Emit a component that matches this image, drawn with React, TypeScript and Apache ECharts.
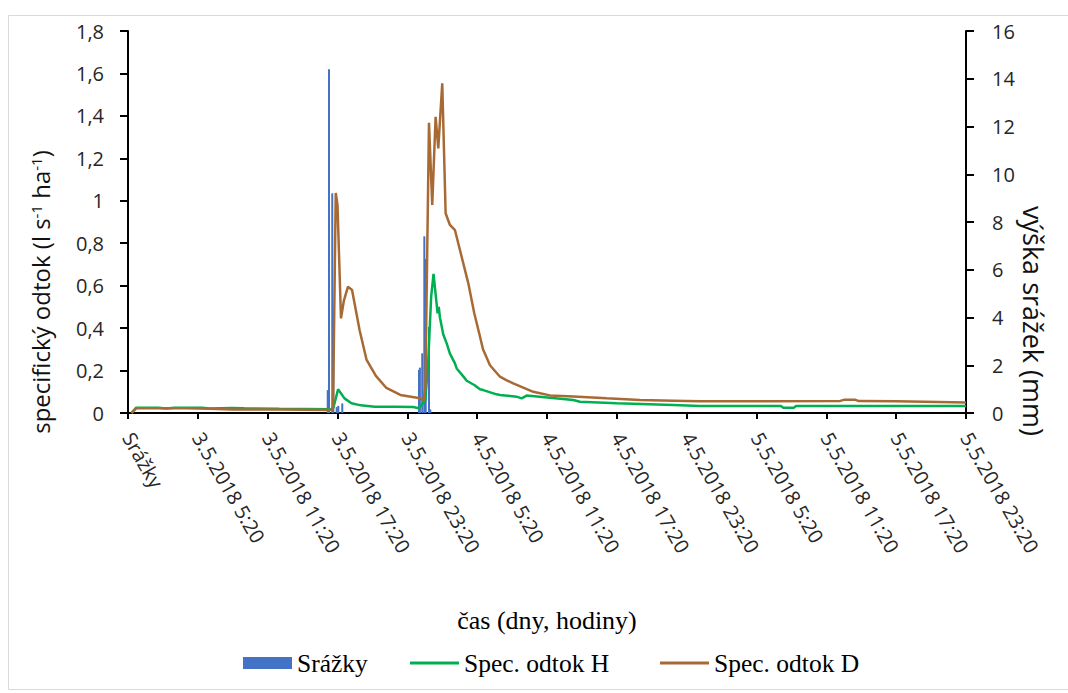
import React, { useEffect, useRef } from "react";
import * as echarts from "echarts";

const xTickLabels = [
  "Srážky",
  "3.5.2018 5:20",
  "3.5.2018 11:20",
  "3.5.2018 17:20",
  "3.5.2018 23:20",
  "4.5.2018 5:20",
  "4.5.2018 11:20",
  "4.5.2018 17:20",
  "4.5.2018 23:20",
  "5.5.2018 5:20",
  "5.5.2018 11:20",
  "5.5.2018 17:20",
  "5.5.2018 23:20",
];
const leftTickLabels = ["0", "0,2", "0,4", "0,6", "0,8", "1", "1,2", "1,4", "1,6", "1,8"];
const rightTickLabels = ["0", "2", "4", "6", "8", "10", "12", "14", "16"];

// hours from the first category ("Srážky"), value in mm
const rain: [number, number][] = [
  [17.16, 0.96], [17.27, 14.4], [17.55, 9.2], [17.64, 2.6], [17.93, 0.25], [18.07, 0.3], [18.41, 0.4],
  [25.0, 1.8], [25.08, 1.9], [25.28, 2.5], [25.46, 7.4], [25.58, 6.45], [25.86, 3.6], [25.97, 0.15],
];

// hours, l s-1 ha-1
const specH: [number, number][] = [
  [0.3, 0], [0.7, 0.025], [2.6, 0.025], [3.3, 0.021], [4.0, 0.025], [6.4, 0.025], [7.0, 0.021],
  [8.9, 0.024], [10.0, 0.022], [13.0, 0.02], [17.5, 0.018], [17.65, 0.025], [18.05, 0.112],
  [18.6, 0.069], [19.2, 0.046], [20.0, 0.036], [21.2, 0.03], [23.0, 0.03], [24.5, 0.028],
  [25.0, 0.022], [25.55, 0.06], [25.8, 0.25], [26.05, 0.55], [26.25, 0.655], [26.45, 0.55],
  [26.6, 0.47], [26.7, 0.5], [26.8, 0.45], [27.09, 0.37], [27.38, 0.328], [27.66, 0.28],
  [28.09, 0.234], [28.24, 0.21], [28.95, 0.163], [29.1, 0.152], [29.75, 0.132], [30.24, 0.112],
  [30.52, 0.108], [31.67, 0.088], [31.96, 0.085], [33.39, 0.077], [33.82, 0.069], [34.25, 0.082],
  [36.25, 0.072], [38.26, 0.061], [38.83, 0.053], [41.98, 0.046], [46.85, 0.038], [49.14, 0.033],
  [56.1, 0.033], [56.3, 0.025], [57.2, 0.025], [57.4, 0.033], [72, 0.033],
];

const specD: [number, number][] = [
  [0.3, 0], [0.7, 0.022], [5, 0.022], [7, 0.02], [9, 0.016], [13, 0.016], [17.5, 0.014],
  [17.62, 0.03], [17.85, 1.037], [18.0, 0.98], [18.3, 0.446], [18.55, 0.53], [18.9, 0.595],
  [19.25, 0.58], [19.9, 0.39], [20.5, 0.25], [21.3, 0.175], [22.2, 0.118], [23.4, 0.085],
  [25.1, 0.069], [25.4, 0.06], [25.55, 0.12], [25.86, 1.368], [26.14, 0.98], [26.43, 1.396],
  [26.66, 1.247], [27.0, 1.554], [27.29, 0.941], [27.66, 0.886], [28.09, 0.862], [28.52, 0.768],
  [29.24, 0.611], [29.75, 0.47], [30.2, 0.37], [30.5, 0.3], [31.1, 0.225], [31.96, 0.171],
  [32.5, 0.155], [33.1, 0.14], [34.82, 0.1], [36.25, 0.083], [38.26, 0.078], [41.12, 0.069],
  [43.98, 0.061], [46.85, 0.058], [49.14, 0.055], [61.2, 0.057], [61.5, 0.062], [62.5, 0.062],
  [62.8, 0.056], [66, 0.055], [72, 0.05],
];

const SANS = '"Open Sans", "Noto Sans", sans-serif';
const SERIF = '"Liberation Serif", "Times New Roman", serif';
const BLUE = "#4472C4";
const GREEN = "#00B050";
const BROWN = "#A86A35";

export default function App() {
  const ref = useRef<HTMLDivElement>(null);
  useEffect(() => {
    const chart = echarts.init(ref.current!, undefined, { renderer: "svg" });
    const axisLine = { show: true, onZero: false, lineStyle: { color: "#000", width: 2 } };
    const legendText = { fontFamily: SERIF, fontSize: 25.5, color: "#000" };
    const option: any = {
      animation: false,
      backgroundColor: "#fff",
      grid: { left: 128, right: 102, top: 31, bottom: 280 },
      xAxis: {
        type: "value",
        min: 0,
        max: 72,
        interval: 6,
        axisLine,
        axisTick: { show: true, length: 6, lineStyle: { color: "#000", width: 2 } },
        splitLine: { show: false },
        axisLabel: {
          rotate: -60,
          margin: 21,
          fontSize: 20,
          fontFamily: SANS,
          color: "#262626",
          showMinLabel: true,
          showMaxLabel: true,
          formatter: (v: number) => xTickLabels[Math.round(v / 6)] ?? "",
        },
      },
      yAxis: [
        {
          type: "value",
          position: "left",
          min: 0,
          max: 1.8,
          interval: 0.2,
          axisLine,
          axisTick: { show: true, length: 8, lineStyle: { color: "#000", width: 2 } },
          splitLine: { show: false },
          axisLabel: {
            margin: 24,
            fontSize: 20,
            fontFamily: SANS,
            color: "#262626",
            formatter: (v: number) => leftTickLabels[Math.round(v / 0.2)] ?? "",
          },
        },
        {
          type: "value",
          position: "right",
          min: 0,
          max: 16,
          interval: 2,
          axisLine,
          axisTick: { show: true, length: 8, lineStyle: { color: "#000", width: 2 } },
          splitLine: { show: false },
          axisLabel: {
            margin: 26,
            fontSize: 20,
            fontFamily: SANS,
            color: "#262626",
            formatter: (v: number) => rightTickLabels[Math.round(v / 2)] ?? "",
          },
        },
      ],
      legend: [
        {
          data: [{ name: "Srážky", icon: "rect" }],
          left: 243,
          top: 650,
          padding: 0,
          itemWidth: 49,
          itemHeight: 12,
          textStyle: legendText,
        },
        {
          data: [{ name: "Spec. odtok H", icon: "rect" }],
          left: 410,
          top: 650,
          padding: 0,
          itemWidth: 49,
          itemHeight: 3,
          textStyle: legendText,
        },
        {
          data: [{ name: "Spec. odtok D", icon: "rect" }],
          left: 660,
          top: 650,
          padding: 0,
          itemWidth: 49,
          itemHeight: 3,
          textStyle: legendText,
        },
      ],
      series: [
        {
          type: "bar",
          name: "Srážky",
          yAxisIndex: 1,
          data: rain,
          barWidth: 2,
          itemStyle: { color: BLUE },
        },
        {
          type: "line",
          name: "Spec. odtok H",
          yAxisIndex: 0,
          data: specH,
          symbol: "none",
          showSymbol: false,
          lineStyle: { color: GREEN, width: 2.5 },
          itemStyle: { color: GREEN },
        },
        {
          type: "line",
          name: "Spec. odtok D",
          yAxisIndex: 0,
          data: specD,
          symbol: "none",
          showSymbol: false,
          lineStyle: { color: BROWN, width: 2.5 },
          itemStyle: { color: BROWN },
        },
      ],
      graphic: [
        {
          type: "rect",
          silent: true,
          z: -10,
          shape: { x: 8.5, y: 15.5, width: 1070, height: 674 },
          style: { fill: "none", stroke: "#D9D9D9", lineWidth: 1 },
        },
        {
          type: "text",
          x: 40,
          y: 292,
          rotation: Math.PI / 2,
          style: {
            text: "specifický odtok (l s{sup|-1} ha{sup|-1})",
            fontSize: 24,
            fontFamily: SANS,
            fill: "#111",
            align: "center",
            verticalAlign: "middle",
            textAlign: "center",
            textVerticalAlign: "middle",
            rich: {
              sup: { fontSize: 15, fontFamily: SANS, fill: "#111", verticalAlign: "top" },
            },
          },
        },
        {
          type: "text",
          x: 1033,
          y: 321,
          rotation: -Math.PI / 2,
          style: {
            text: "výška srážek (mm)",
            fontSize: 27,
            fontFamily: SANS,
            fill: "#111",
            align: "center",
            verticalAlign: "middle",
            textAlign: "center",
            textVerticalAlign: "middle",
          },
        },
        {
          type: "text",
          x: 547,
          y: 620,
          style: {
            text: "čas (dny, hodiny)",
            fontSize: 26,
            fontFamily: SERIF,
            fill: "#000",
            align: "center",
            verticalAlign: "middle",
            textAlign: "center",
            textVerticalAlign: "middle",
          },
        },
      ],
    };
    chart.setOption(option);
    return () => chart.dispose();
  }, []);
  return (
    <div
      ref={ref}
      style={{ position: "absolute", left: 0, top: 0, width: 1068, height: 693 }}
    />
  );
}
